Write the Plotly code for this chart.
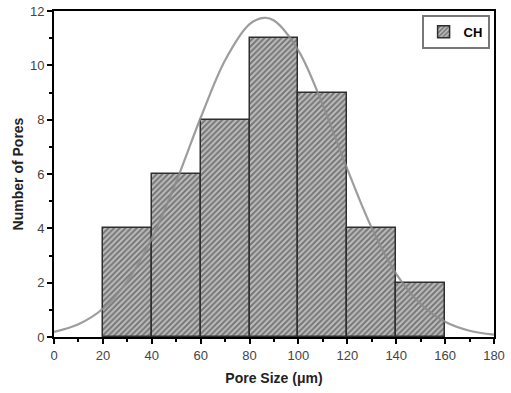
import plotly.graph_objects as go

# Histogram bins (pore size, µm) and counts
bin_centers = [30, 50, 70, 90, 110, 130, 150]
counts = [4, 6, 8, 11, 9, 4, 2]
bin_width = [20] * 7

# Fitted distribution curve
curve_x = [0, 10, 20, 30, 40, 50, 60, 70, 80, 86, 90, 100, 110, 120, 130, 140, 150, 160, 170, 180]
curve_y = [0.19, 0.47, 1.04, 2.06, 3.63, 5.72, 8.07, 10.19, 11.52, 11.75, 11.65, 10.54, 8.53, 6.18, 4.01, 2.32, 1.21, 0.56, 0.23, 0.09]

x_ticks = [0, 20, 40, 60, 80, 100, 120, 140, 160, 180]
y_ticks = [0, 2, 4, 6, 8, 10, 12]

FONT = "Liberation Sans, Arial, sans-serif"

fig = go.Figure()
fig.add_trace(go.Bar(
    x=bin_centers, y=counts, width=bin_width, name="CH",
    marker=dict(
        color="#a8a8a8",
        line=dict(color="#2e2e2e", width=1.5),
        pattern=dict(shape="/", fgcolor="#303030", bgcolor="#bdbdbd", size=4, solidity=0.5),
    ),
))
fig.add_trace(go.Scatter(
    x=curve_x, y=curve_y, mode="lines", line=dict(color="#8c8c8c", width=2.2, shape="spline"),
    opacity=0.85, showlegend=False, hoverinfo="skip",
))

axis_common = dict(
    showline=True, linecolor="black", linewidth=2, mirror=True,
    ticks="outside", ticklen=5, tickwidth=1.5, tickcolor="black",
    showgrid=False, zeroline=False, automargin=False,
    tickfont=dict(family=FONT, size=13, color="#444444"),
)

fig.update_layout(
    width=511, height=393,
    margin=dict(l=54, r=17, t=11, b=56, autoexpand=False),
    paper_bgcolor="white", plot_bgcolor="white",
    bargap=0,
    showlegend=True,
    legend=dict(
        x=0.99, y=0.988, xanchor="right", yanchor="top",
        bordercolor="#777777", borderwidth=2, bgcolor="white",
        font=dict(family=FONT, size=13, color="black", weight="bold"),
    ),
    xaxis=dict(
        range=[0, 180], tickvals=x_ticks,
        minor=dict(ticks="outside", ticklen=3, tickcolor="black", dtick=10, tick0=0),
        title=dict(text="Pore Size (μm)", font=dict(family=FONT, size=14, color="#222222", weight="bold"), standoff=12),
        **axis_common,
    ),
    yaxis=dict(
        range=[0, 12], tickvals=y_ticks,
        minor=dict(ticks="outside", ticklen=3, tickcolor="black", dtick=1, tick0=0),
        title=dict(text="Number of Pores", font=dict(family=FONT, size=14, color="#222222", weight="bold"), standoff=3),
        **axis_common,
    ),
)

fig.write_html("out.html")
